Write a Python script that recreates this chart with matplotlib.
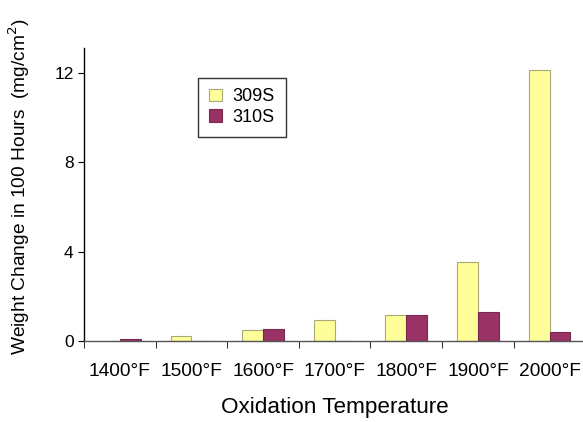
import numpy as np
import matplotlib.pyplot as plt

plt.rcParams['font.family'] = ['Liberation Sans', 'DejaVu Sans']

# data
temps = ['1400°F', '1500°F', '1600°F', '1700°F', '1800°F', '1900°F', '2000°F']
s309 = [0.02, 0.22, 0.47, 0.95, 1.15, 3.53, 12.1]
s310 = [0.08, 0.0, 0.52, 0.0, 1.15, 1.31, 0.42]

fig = plt.figure(figsize=(5.83, 4.22), dpi=100)
ax = fig.add_axes([0.144, 0.192, 0.86, 0.694])

x = np.arange(len(temps))
w = 0.29
ax.bar(x - w/2, s309, w, color='#ffff99', edgecolor='#a8a878', linewidth=0.8, label='309S')
ax.bar(x + w/2, s310, w, color='#993366', edgecolor='#7a2850', linewidth=0.8, label='310S')

ax.set_xlim(-0.5, 6.5)
ax.set_ylim(0, 13.1)
ax.set_yticks([0, 4, 8, 12])
ax.tick_params(axis='y', labelsize=12.5, length=4, direction='out')
ax.set_xticks(x)
ax.set_xticklabels(temps, fontsize=13.8)
ax.tick_params(axis='x', length=0, pad=16)
ax.set_xticks(np.arange(-0.5, 7, 1), minor=True)
ax.tick_params(axis='x', which='minor', length=5, direction='out')

ax.spines['top'].set_visible(False)
ax.spines['right'].set_visible(False)
for s in ['left', 'bottom']:
    ax.spines[s].set_linewidth(1.0)
ax.spines['bottom'].set_color('#555555')

ax.set_xlabel('Oxidation Temperature', fontsize=16.2, labelpad=12)
ax.set_ylabel('Weight Change in 100 Hours  (mg/cm$^2$)', fontsize=13.8)
ax.yaxis.set_label_coords(-0.104, 0.526)

leg = ax.legend(loc='upper left', bbox_to_anchor=(0.21, 0.93), fontsize=13,
                frameon=True, fancybox=False, edgecolor='black', handlelength=0.7,
                handleheight=0.7, handletextpad=0.6, borderpad=0.6, labelspacing=0.2)
leg.get_frame().set_linewidth(1.0)

fig.savefig('out.png', dpi=100)
